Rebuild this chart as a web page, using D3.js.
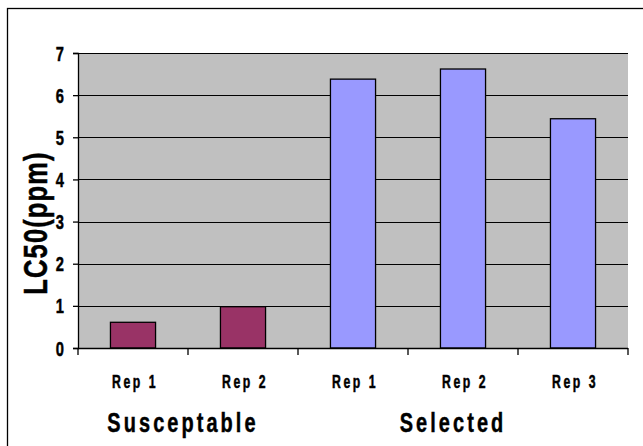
<!DOCTYPE html>
<html>
<head>
<meta charset="utf-8">
<script src="https://cdn.jsdelivr.net/npm/d3@7"></script>
<style>
  html, body { margin: 0; padding: 0; background: #ffffff; }
  svg { display: block; }
  text { font-family: "Liberation Sans", Arial, sans-serif; font-weight: bold; fill: #000; stroke: #000; stroke-width: 0.5px; }
</style>
</head>
<body>
<svg id="chart" width="643" height="446"></svg>
<script>
// LC50 per replicate, grouped by population
const categories = ["Rep 1", "Rep 2", "Rep 1", "Rep 2", "Rep 3"];
const groups = ["Susceptable", "Susceptable", "Selected", "Selected", "Selected"];
const values = [0.61, 0.98, 6.38, 6.62, 5.44];
const groupNames = ["Susceptable", "Selected"];
const yTicks = [0, 1, 2, 3, 4, 5, 6, 7];
const groupColors = { "Susceptable": "#993366", "Selected": "#9999FF" };

const svg = d3.select("#chart");
const plot = { left: 78, right: 628, top: 53, bottom: 348 };
const squeeze = 0.7; // condensed lettering

// outer chart frame (runs off the right and bottom edges)
svg.append("rect")
  .attr("x", 7.5).attr("y", 8.5)
  .attr("width", 720).attr("height", 520)
  .attr("fill", "#ffffff").attr("stroke", "#000").attr("stroke-width", 1.3);

const idx = categories.map((_, i) => i);
const x = d3.scaleBand().domain(idx).range([plot.left, plot.right]).padding(0);
const y = d3.scaleLinear().domain([0, 7]).range([plot.bottom, plot.top]);

// plot background
svg.append("rect")
  .attr("x", plot.left).attr("y", plot.top)
  .attr("width", plot.right - plot.left).attr("height", plot.bottom - plot.top)
  .attr("fill", "#C0C0C0");

// horizontal gridlines
svg.append("g").selectAll("line").data(yTicks.filter(d => d > 0)).join("line")
  .attr("x1", plot.left).attr("x2", plot.right)
  .attr("y1", d => Math.round(y(d)) + 0.5).attr("y2", d => Math.round(y(d)) + 0.5)
  .attr("stroke", "#000").attr("stroke-width", 1);

// bars
const barFrac = 0.41;
svg.append("g").selectAll("rect").data(idx).join("rect")
  .attr("x", i => x(i) + x.bandwidth() * (1 - barFrac) / 2)
  .attr("width", x.bandwidth() * barFrac)
  .attr("y", i => y(values[i]))
  .attr("height", i => y(0) - y(values[i]))
  .attr("fill", i => groupColors[groups[i]])
  .attr("stroke", "#000").attr("stroke-width", 1.3);

// y axis line and ticks
const yAxis = svg.append("g")
  .attr("transform", `translate(${plot.left},0)`)
  .call(d3.axisLeft(y).tickValues(yTicks).tickSize(5).tickFormat(""));
yAxis.select(".domain").attr("stroke", "#000").attr("stroke-width", 1.3);
yAxis.selectAll(".tick line").attr("stroke", "#000").attr("stroke-width", 1.3);

// y tick labels
svg.append("g").selectAll("text").data(yTicks).join("text")
  .attr("transform", d => `translate(64,${y(d) + 7.5}) scale(${squeeze},1)`)
  .attr("text-anchor", "end")
  .style("font-size", "21px")
  .text(d => d3.format("d")(d));

// x axis: ticks fall on the band boundaries
const xAxisG = svg.append("g").attr("transform", `translate(0,${plot.bottom})`);
xAxisG.append("line")
  .attr("x1", plot.left).attr("x2", plot.right)
  .attr("y1", 0.5).attr("y2", 0.5)
  .attr("stroke", "#000").attr("stroke-width", 1.3);
const bounds = idx.map(i => x(i)).concat([x(idx[idx.length - 1]) + x.bandwidth()]);
xAxisG.selectAll("line.tk").data(bounds).join("line").attr("class", "tk")
  .attr("x1", d => d).attr("x2", d => d)
  .attr("y1", 0).attr("y2", 7)
  .attr("stroke", "#000").attr("stroke-width", 1.3);

// category labels
svg.append("g").selectAll("text").data(idx).join("text")
  .attr("transform", i => `translate(${x(i) + x.bandwidth() / 2 + 2},388) scale(${squeeze},1)`)
  .attr("text-anchor", "middle")
  .style("font-size", "17.5px")
  .style("letter-spacing", "3.6px")
  .text(i => categories[i]);

// group labels centred under their replicates
const groupCenters = groupNames.map(g => {
  const members = idx.filter(i => groups[i] === g);
  return d3.mean(members, i => x(i) + x.bandwidth() / 2);
});
const groupShift = [-5, -10];
svg.append("g").selectAll("text").data(groupNames).join("text")
  .attr("transform", (g, k) => `translate(${groupCenters[k] + groupShift[k]},432) scale(${squeeze},1)`)
  .attr("text-anchor", "middle")
  .style("font-size", "28.5px")
  .style("letter-spacing", "4.4px")
  .text(g => g);

// y axis title
svg.append("text")
  .attr("transform", `translate(47,223) rotate(-90) scale(0.75,1)`)
  .attr("text-anchor", "middle")
  .style("font-size", "34px")
  .style("letter-spacing", "1.5px")
  .text("LC50(ppm)");
</script>
</body>
</html>
